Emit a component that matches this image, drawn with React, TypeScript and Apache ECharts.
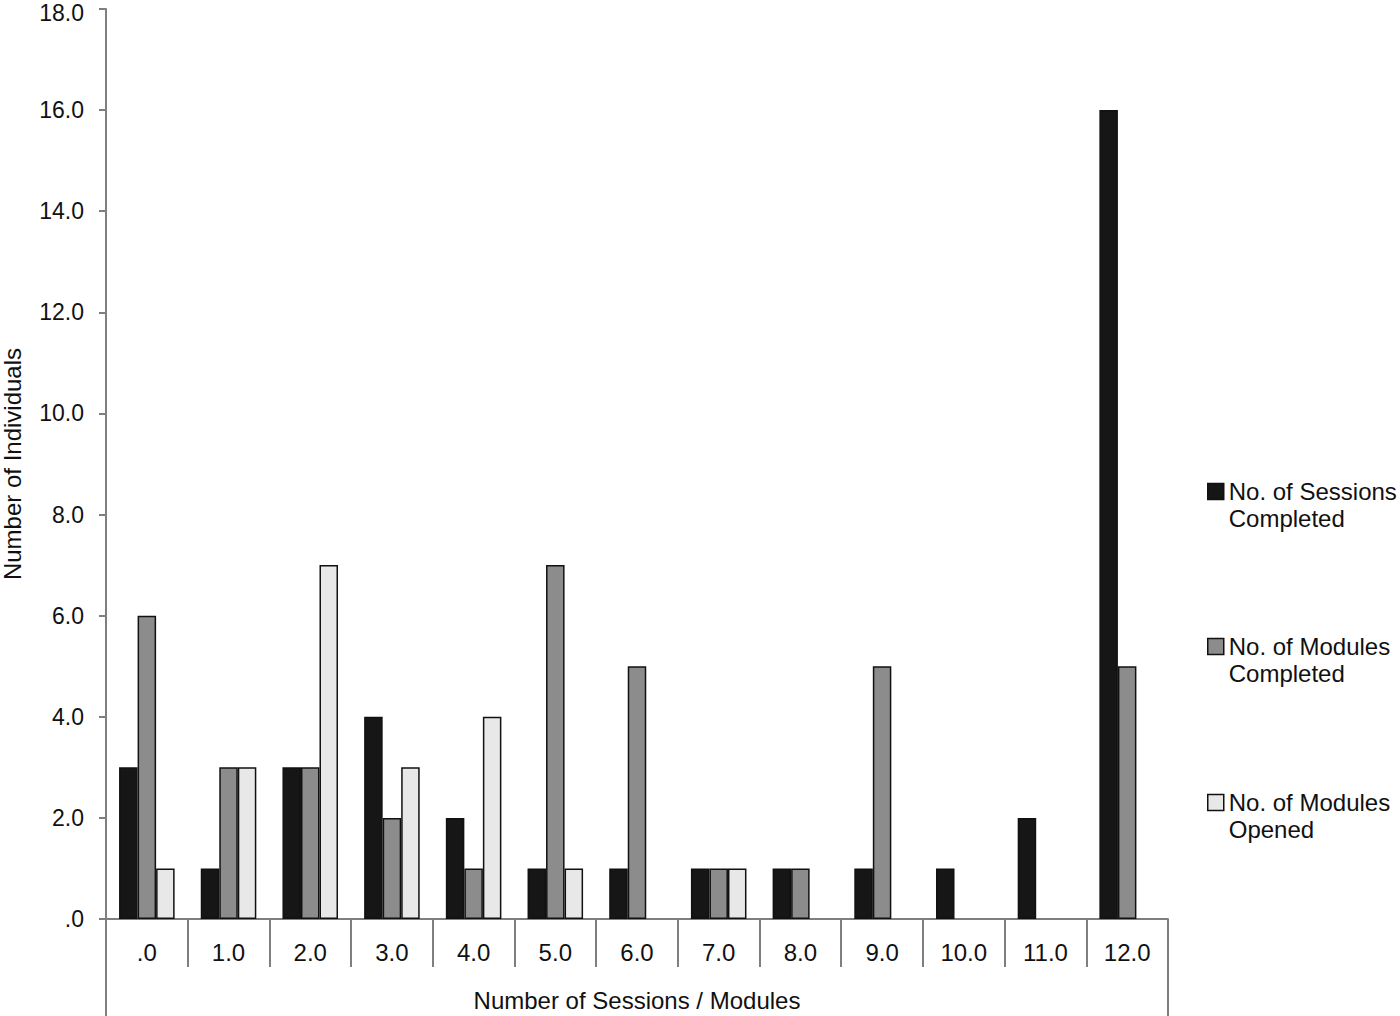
import React, { useEffect, useRef } from "react";
import * as echarts from "echarts";

const categories = [".0", "1.0", "2.0", "3.0", "4.0", "5.0", "6.0", "7.0", "8.0", "9.0", "10.0", "11.0", "12.0"];
const sessionsCompleted = [3, 1, 3, 4, 2, 1, 1, 1, 1, 1, 1, 2, 16];
const modulesCompleted = [6, 3, 3, 2, 1, 7, 5, 1, 1, 5, 0, 0, 5];
const modulesOpened = [1, 3, 7, 3, 4, 1, 0, 1, 0, 0, 0, 0, 0];
const seriesNames = ["No. of Sessions\nCompleted", "No. of Modules\nCompleted", "No. of Modules\nOpened"];
const seriesColors = ["#161616", "#8c8c8c", "#e8e8e8"];

const FONT = "'Liberation Sans', Arial, sans-serif";
const AXIS_GRAY = "#7f7f7f";
const Y_MAX = 18;

export default function App() {
  const ref = useRef<HTMLDivElement>(null);
  useEffect(() => {
    if (!ref.current) return;
    const chart = echarts.init(ref.current, undefined, { renderer: "svg" });
    const values = [sessionsCompleted, modulesCompleted, modulesOpened];
    const legendTops = [451, 606, 762];
    chart.setOption({
      animation: false,
      textStyle: { fontFamily: FONT, color: "#111" },
      grid: { left: 106, right: 232, top: 9, bottom: 97, outerBoundsMode: "none", containLabel: false },
      legend: seriesNames.map((n, i) => ({
        data: [n],
        orient: "vertical",
        left: 1207,
        top: legendTops[i],
        padding: 0,
        itemWidth: 16,
        itemHeight: 16,
        itemGap: 5,
        icon: "rect",
        selectedMode: false,
        formatter: (name: string) => "\n" + name,
        itemStyle: { borderColor: "#111", borderWidth: 1.5 },
        textStyle: { fontFamily: FONT, fontSize: 24, color: "#111", lineHeight: 27 },
      })),
      xAxis: {
        type: "category",
        data: categories,
        name: "Number of Sessions / Modules",
        nameLocation: "middle",
        nameGap: 69,
        nameTextStyle: { fontFamily: FONT, fontSize: 24, color: "#111" },
        axisLine: { lineStyle: { color: AXIS_GRAY, width: 2 } },
        axisTick: { show: true, interval: 0, length: 48, lineStyle: { color: AXIS_GRAY, width: 2 } },
        axisLabel: { fontFamily: FONT, fontSize: 24, color: "#111", margin: 21, interval: 0 },
      },
      yAxis: {
        type: "value",
        min: 0,
        max: Y_MAX,
        interval: 2,
        name: "Number of Individuals",
        nameLocation: "middle",
        nameGap: 82,
        nameTextStyle: { fontFamily: FONT, fontSize: 24, color: "#111" },
        axisLine: { show: true, lineStyle: { color: AXIS_GRAY, width: 2 } },
        axisTick: { show: true, length: 7, lineStyle: { color: AXIS_GRAY, width: 2 } },
        axisLabel: {
          fontFamily: FONT,
          fontSize: 23,
          color: "#111",
          margin: 22,
          formatter: (v: number) => (v === 0 ? ".0" : v === Y_MAX ? "{t|" + v.toFixed(1) + "}" : v.toFixed(1)),
          rich: {
            t: { fontFamily: FONT, fontSize: 23, color: "#111", lineHeight: 20, padding: [8, 0, 0, 0] },
          },
        },
        splitLine: { show: false },
      },
      series: seriesNames.map((n, i) => ({
        name: n,
        type: "bar",
        data: values[i].map((v) => (v === 0 ? "-" : v)),
        barGap: "0%",
        barCategoryGap: "32%",
        itemStyle: { color: seriesColors[i], borderColor: "#111", borderWidth: 1.5 },
      })),
      graphic: [
        { type: "line", shape: { x1: 106, y1: 919, x2: 106, y2: 1016 }, style: { stroke: AXIS_GRAY, lineWidth: 2 } },
        { type: "line", shape: { x1: 1168, y1: 919, x2: 1168, y2: 1016 }, style: { stroke: AXIS_GRAY, lineWidth: 2 } },
      ],
    });
    return () => chart.dispose();
  }, []);
  return <div ref={ref} style={{ width: 1400, height: 1016, position: "absolute", left: 0, top: 0, background: "#fff" }} />;
}
